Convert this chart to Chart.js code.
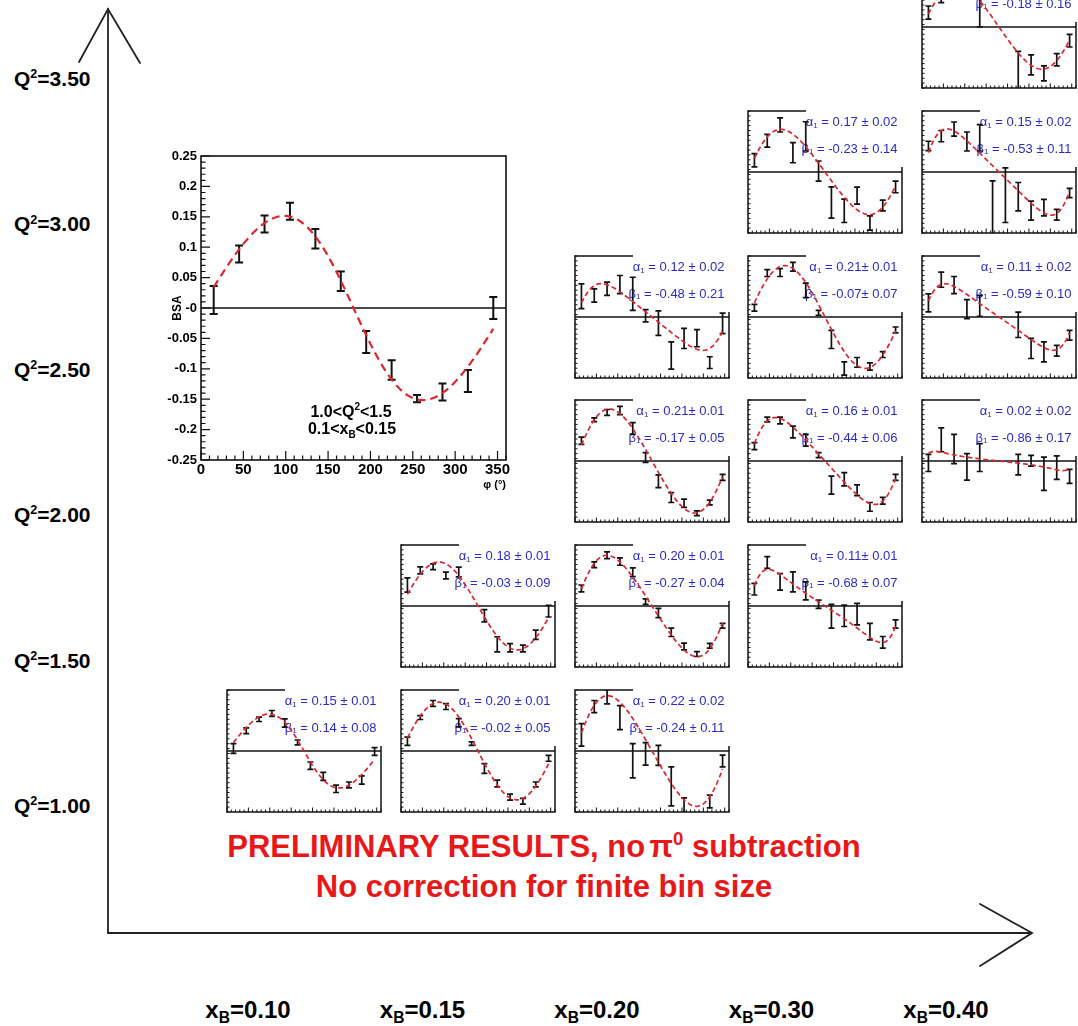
<!DOCTYPE html>
<html>
<head>
<meta charset="utf-8">
<title>Beam spin asymmetry vs phi</title>
<script src="https://cdn.jsdelivr.net/npm/chart.js@4.4.1/dist/chart.umd.min.js"></script>
<style>
  html,body{margin:0;padding:0;background:#fff;}
  #page{position:relative;width:1078px;height:1026px;overflow:hidden;font-family:"Liberation Sans",Arial,Helvetica,sans-serif;}
  #page canvas{position:absolute;}
  .lab{position:absolute;white-space:nowrap;line-height:1;font-weight:bold;color:#000;}
  .q2{font-size:21px;left:14px;transform:translate(0,-50%);}
  .xb{font-size:24px;transform:translate(-50%,-50%);}
  .sup{font-size:0.6em;position:relative;top:-0.62em;}
  .sub{font-size:0.65em;position:relative;top:0.35em;}
  .note{font-size:31px;color:#e81818;left:544px;transform:translate(-50%,-50%);}
  svg{position:absolute;left:0;top:0;}
</style>
</head>
<body>
<div id="page">
<svg width="1078" height="1026">
  <g stroke="#222" stroke-width="1.8" fill="none" stroke-linecap="round">
    <line x1="108" y1="9" x2="108" y2="933"/>
    <polyline points="79,62 108,9 140,63"/>
    <line x1="108" y1="933" x2="1031" y2="933"/>
    <polyline points="980,904 1032,933 980,966"/>
  </g>
</svg>
<div class="lab note" style="top:846px">PRELIMINARY RESULTS, no<span style="margin-left:4px">π</span><span class="sup">0</span> subtraction</div>
<div class="lab note" style="top:886px">No correction for finite bin size</div>
</div>
<script>
// phi bin centres (degrees)
const PHI = [15, 45, 75, 105, 135, 165, 195, 225, 255, 285, 315, 345];

// axis labels of the grid of bins
const xbLabels = ['0.10', '0.15', '0.20', '0.30', '0.40'];
const q2Labels = ['1.00', '1.50', '2.00', '2.50', '3.00', '3.50'];

// enlarged bin: 1.0<Q2<1.5, 0.1<xB<0.15
const bsaMain = [0.013, 0.089, 0.138, 0.159, 0.114, 0.044, -0.056, -0.102, -0.149, -0.138, -0.120, 0.000];
const errMain = [0.023, 0.014, 0.014, 0.014, 0.016, 0.016, 0.018, 0.016, 0.006, 0.014, 0.018, 0.018];
const yTickValues = [-0.25, -0.2, -0.15, -0.1, -0.05, 0, 0.05, 0.1, 0.15, 0.2, 0.25];
const yTickLabels = ['-0.25', '-0.2', '-0.15', '-0.1', '-0.05', '-0', '0.05', '0.1', '0.15', '0.2', '0.25'];
const xTickValues = [0, 50, 100, 150, 200, 250, 300, 350];
const xTickLabels = ['0', '50', '100', '150', '200', '250', '300', '350'];

// small panels, one pair of arrays per (xB, Q2) bin; null = no measurement
const bsa_x10_q10 = [0.010, 0.083, 0.130, 0.154, 0.115, 0.035, -0.060, -0.104, -0.155, -0.139, -0.119, -0.002];
const err_x10_q10 = [0.020, 0.012, 0.009, 0.012, 0.017, 0.010, 0.015, 0.016, 0.015, 0.012, 0.017, 0.016];
const bsa_x15_q10 = [0.040, 0.137, 0.195, 0.182, 0.116, 0.030, -0.072, -0.133, -0.189, -0.206, -0.137, -0.030];
const err_x15_q10 = [0.017, 0.008, 0.012, 0.012, 0.017, 0.007, 0.020, 0.014, 0.012, 0.012, 0.010, 0.012];
const bsa_x20_q10 = [0.066, 0.182, 0.222, 0.137, -0.040, -0.012, -0.018, -0.145, -0.226, null, -0.207, -0.041];
const err_x20_q10 = [0.046, 0.025, 0.029, 0.049, 0.070, 0.046, 0.041, 0.080, 0.034, null, 0.026, 0.024];
const bsa_x15_q15 = [0.086, 0.146, 0.161, 0.125, 0.139, null, -0.040, -0.157, -0.171, -0.174, -0.118, -0.021];
const err_x15_q15 = [0.029, 0.014, 0.012, 0.014, 0.020, null, 0.025, 0.031, 0.017, 0.014, 0.019, 0.024];
const bsa_x20_q15 = [0.072, 0.169, 0.208, 0.182, 0.138, 0.018, -0.029, -0.108, -0.166, -0.197, -0.163, -0.081];
const err_x20_q15 = [0.014, 0.012, 0.014, 0.015, 0.018, 0.011, 0.019, 0.017, 0.014, 0.010, 0.010, 0.010];
const bsa_x30_q15 = [0.069, 0.178, 0.099, 0.099, 0.062, 0.007, -0.042, -0.040, -0.033, -0.105, -0.149, -0.074];
const err_x30_q15 = [0.024, 0.024, 0.034, 0.041, 0.037, 0.017, 0.049, 0.044, 0.044, 0.034, 0.024, 0.017];
const bsa_x20_q20 = [0.083, 0.169, 0.199, 0.207, 0.133, 0.014, -0.083, -0.150, -0.173, -0.214, -0.170, -0.067];
const err_x20_q20 = [0.015, 0.008, 0.012, 0.017, 0.024, 0.020, 0.026, 0.020, 0.017, 0.010, 0.010, 0.012];
const bsa_x30_q20 = [0.061, 0.170, 0.166, 0.119, 0.085, 0.024, -0.099, -0.075, -0.120, -0.188, -0.163, -0.067];
const err_x30_q20 = [0.014, 0.010, 0.014, 0.024, 0.024, 0.010, 0.037, 0.027, 0.022, 0.018, 0.014, 0.012];
const bsa_x40_q20 = [-0.008, 0.087, 0.049, -0.024, 0.014, null, null, -0.015, 0.001, -0.052, -0.027, -0.063];
const err_x40_q20 = [0.035, 0.049, 0.060, 0.054, 0.057, null, null, 0.042, 0.022, 0.068, 0.048, 0.029];
const bsa_x20_q25 = [0.085, 0.088, 0.116, 0.133, 0.095, 0.005, -0.025, -0.158, -0.088, -0.087, -0.187, -0.026];
const err_x20_q25 = [0.051, 0.027, 0.027, 0.037, 0.068, 0.025, 0.050, 0.056, 0.041, 0.035, 0.024, 0.042];
const bsa_x30_q25 = [0.038, 0.180, 0.182, 0.206, 0.109, 0.017, -0.092, -0.211, -0.186, -0.203, -0.154, -0.053];
const err_x30_q25 = [0.014, 0.014, 0.016, 0.018, 0.030, 0.010, 0.037, 0.027, 0.020, 0.015, 0.012, 0.012];
const bsa_x40_q25 = [0.058, 0.153, 0.131, 0.032, 0.046, null, null, -0.032, -0.129, -0.143, -0.138, -0.075];
const err_x40_q25 = [0.037, 0.031, 0.035, 0.039, 0.043, null, null, 0.052, 0.041, 0.041, 0.022, 0.020];
const bsa_x30_q30 = [0.048, 0.128, 0.193, 0.079, 0.146, 0.004, -0.125, -0.159, -0.097, -0.209, -0.137, -0.061];
const err_x30_q30 = [0.027, 0.026, 0.029, 0.041, 0.060, 0.041, 0.064, 0.048, 0.035, 0.029, 0.022, 0.024];
const bsa_x40_q30 = [0.107, 0.147, 0.176, 0.125, 0.140, -0.145, -0.095, -0.101, -0.158, -0.146, -0.175, -0.086];
const err_x40_q30 = [0.019, 0.023, 0.029, 0.039, 0.054, 0.109, 0.112, 0.058, 0.039, 0.034, 0.022, 0.019];
const bsa_x40_q35 = [0.059, 0.130, 0.180, 0.190, 0.100, null, null, -0.190, -0.155, -0.190, -0.134, -0.056];
const err_x40_q35 = [0.027, 0.030, 0.030, 0.030, 0.100, null, null, 0.090, 0.041, 0.031, 0.025, 0.026];

// panel bookkeeping: column (xB index), row (Q2 index) and the arrays above
const panelCol = [0, 1, 2, 1, 2, 3, 2, 3, 4, 2, 3, 4, 3, 4, 4];
const panelRow = [0, 0, 0, 1, 1, 1, 2, 2, 2, 3, 3, 3, 4, 4, 5];
const panelBsa = [bsa_x10_q10, bsa_x15_q10, bsa_x20_q10, bsa_x15_q15, bsa_x20_q15, bsa_x30_q15, bsa_x20_q20, bsa_x30_q20, bsa_x40_q20, bsa_x20_q25, bsa_x30_q25, bsa_x40_q25, bsa_x30_q30, bsa_x40_q30, bsa_x40_q35];
const panelErr = [err_x10_q10, err_x15_q10, err_x20_q10, err_x15_q15, err_x20_q15, err_x30_q15, err_x20_q20, err_x30_q20, err_x40_q20, err_x20_q25, err_x30_q25, err_x40_q25, err_x30_q30, err_x40_q30, err_x40_q35];

// fit BSA = alpha1 sin(phi) / (1 + beta1 cos(phi))
const alpha1    = [0.15, 0.20, 0.22, 0.18, 0.20, 0.11, 0.21, 0.16, 0.02, 0.12, 0.21, 0.11, 0.17, 0.15, 0.17];
const alpha1Err = [0.01, 0.01, 0.02, 0.01, 0.01, 0.01, 0.01, 0.01, 0.02, 0.02, 0.01, 0.02, 0.02, 0.02, 0.03];
const beta1     = [0.14, -0.02, -0.24, -0.03, -0.27, -0.68, -0.17, -0.44, -0.86, -0.48, -0.07, -0.59, -0.23, -0.53, -0.18];
const beta1Err  = [0.08, 0.05, 0.11, 0.09, 0.04, 0.07, 0.05, 0.06, 0.17, 0.21, 0.07, 0.10, 0.14, 0.11, 0.16];
// panels whose printout has no space before the ± sign
const tightAlpha = [5, 6, 10];
const tightBeta = [10];

const FONT = '"Liberation Sans", Arial, Helvetica, sans-serif';
const RED = '#e0262d';
const BLUE = '#2b2bcc';

function fitCurve(a, b) {
  const pts = [];
  for (let p = 15; p <= 345.001; p += 2.5) {
    const r = p * Math.PI / 180;
    pts.push({x: p, y: a * Math.sin(r) / (1 + b * Math.cos(r))});
  }
  return pts;
}

function points(vals, errs) {
  const out = [];
  PHI.forEach((p, k) => { if (vals[k] !== null) out.push({x: p, y: vals[k], e: errs[k]}); });
  return out;
}

// draw a run of text pieces (with optional size / vertical shift)
function richText(ctx, parts, x, y, align) {
  let total = 0;
  parts.forEach(p => { ctx.font = p.font; p.w = ctx.measureText(p.t).width; total += p.w; });
  let cx = align === 'right' ? x - total : align === 'center' ? x - total / 2 : x;
  ctx.textAlign = 'left';
  ctx.textBaseline = 'middle';
  parts.forEach(p => { ctx.font = p.font; ctx.fillText(p.t, cx, y + (p.dy || 0)); cx += p.w; });
}

// frame, inward ticks, zero line, legend box and error bars in the ROOT style
const rootFrame = {
  id: 'rootFrame',
  beforeDatasetsDraw(chart, args, o) {
    const {ctx, chartArea: a, scales: {x, y}} = chart;
    ctx.save();
    ctx.strokeStyle = '#111';
    ctx.lineCap = 'butt';
    // ticks
    ctx.lineWidth = o.tickWidth;
    ctx.beginPath();
    for (let v = 0; v <= 360.001; v += o.xMinor) {
      const len = Math.abs(v / o.xMajor - Math.round(v / o.xMajor)) < 1e-6 ? o.tickMajor : o.tickMinor;
      const px = x.getPixelForValue(v);
      ctx.moveTo(px, a.bottom); ctx.lineTo(px, a.bottom - len);
    }
    for (let k = -25; k <= 25; k += o.yMinorK) {
      const v = k / 100;
      const len = (k % o.yMajorK === 0) ? o.tickMajor : o.tickMinor;
      const py = y.getPixelForValue(v);
      ctx.moveTo(a.left, py); ctx.lineTo(a.left + len, py);
    }
    ctx.stroke();
    // zero line
    ctx.lineWidth = o.zeroWidth;
    ctx.beginPath();
    const y0 = y.getPixelForValue(0);
    ctx.moveTo(a.left, y0); ctx.lineTo(a.right, y0);
    ctx.stroke();
    // frame
    ctx.lineWidth = o.frameWidth;
    ctx.strokeRect(a.left, a.top, a.right - a.left, a.bottom - a.top);
    // fit-parameter box
    if (o.box) {
      ctx.fillStyle = '#fff';
      ctx.fillRect(a.left + o.box.x0, a.top - 4, a.right - a.left - o.box.x0 + 5, o.box.h + 4);
      ctx.fillStyle = BLUE;
      const f = '13px ' + FONT, fs = '8px ' + FONT;
      const rx = a.left + o.box.right;
      richText(ctx, [{t: 'α', font: f}, {t: '1', font: fs, dy: 3}, {t: ' = ' + o.box.alpha, font: f}], rx, a.top + 11.5, 'right');
      richText(ctx, [{t: 'β', font: f}, {t: '1', font: fs, dy: 3}, {t: ' = ' + o.box.beta, font: f}], rx, a.top + 38, 'right');
    }
    // error bars
    ctx.beginPath();
    ctx.rect(a.left, a.top, a.right - a.left, a.bottom - a.top);
    ctx.clip();
    ctx.strokeStyle = '#111';
    ctx.lineWidth = o.barWidth;
    ctx.beginPath();
    chart.data.datasets[0].data.forEach(d => {
      const px = x.getPixelForValue(d.x);
      const yt = y.getPixelForValue(d.y + d.e);
      const yb = y.getPixelForValue(d.y - d.e);
      const h = o.cap / 2;
      ctx.moveTo(px, yt); ctx.lineTo(px, yb);
      ctx.moveTo(px - h, yt); ctx.lineTo(px + h, yt);
      ctx.moveTo(px - h, yb); ctx.lineTo(px + h, yb);
    });
    ctx.stroke();
    ctx.restore();
  },
  afterDraw(chart, args, o) {
    if (!o.binText) return;
    const {ctx, chartArea: a} = chart;
    ctx.save();
    ctx.fillStyle = '#000';
    const f = 'bold 16px ' + FONT, fs = 'bold 10px ' + FONT;
    richText(ctx, [{t: '1.0<Q', font: f}, {t: '2', font: fs, dy: -6}, {t: '<1.5', font: f}], a.left + 150, a.top + 257, 'center');
    richText(ctx, [{t: '0.1<x', font: f}, {t: 'B', font: fs, dy: 5}, {t: '<0.15', font: f}], a.left + 151, a.top + 274, 'center');
    ctx.restore();
  }
};

const page = document.getElementById('page');

function addCanvas(left, top, w, h) {
  const cv = document.createElement('canvas');
  cv.width = w; cv.height = h;
  cv.style.left = left + 'px';
  cv.style.top = top + 'px';
  cv.style.width = w + 'px';
  cv.style.height = h + 'px';
  page.appendChild(cv);
  return cv;
}

function fmt(v) { return v.toFixed(2); }

// small panels
const PW = 154, PH = 122, PAD = 7;
panelBsa.forEach((vals, i) => {
  const left = Math.round(227 + panelCol[i] * 173.8);
  const zero = Math.round(751 - panelRow[i] * 144.8);
  const top = zero - PH / 2;
  const cv = addCanvas(left - PAD, top - PAD, PW + 2 * PAD, PH + 2 * PAD);
  const aTxt = fmt(alpha1[i]) + (tightAlpha.includes(i) ? '± ' : ' ± ') + fmt(alpha1Err[i]);
  const bTxt = fmt(beta1[i]) + (tightBeta.includes(i) ? '± ' : ' ± ') + fmt(beta1Err[i]);
  new Chart(cv, {
    type: 'scatter',
    data: {datasets: [
      {data: points(vals, panelErr[i]), pointRadius: 0, pointHoverRadius: 0},
      {data: fitCurve(alpha1[i], beta1[i]), showLine: true, borderColor: RED, borderWidth: 1.7,
       borderDash: [5, 3], pointRadius: 0, pointHoverRadius: 0, tension: 0}
    ]},
    options: {
      responsive: false, animation: false, events: [],
      layout: {padding: PAD},
      scales: {
        x: {type: 'linear', min: 0, max: 360, display: false},
        y: {type: 'linear', min: -0.25, max: 0.25, display: false}
      },
      plugins: {
        legend: {display: false}, tooltip: {enabled: false},
        rootFrame: {tickWidth: 1, tickMajor: 4.5, tickMinor: 2.5, xMajor: 50, xMinor: 10, yMajorK: 10, yMinorK: 2,
                    zeroWidth: 1.4, frameWidth: 1.5, barWidth: 1.7, cap: 6,
                    box: {x0: 58, h: 56, right: 149.5, alpha: aTxt, beta: bTxt}}
      }
    },
    plugins: [rootFrame]
  });
});

// enlarged panel
(function () {
  const cv = addCanvas(131, 140, 389, 360);
  const tickFont = {family: FONT, weight: 'bold', size: 13};
  new Chart(cv, {
    type: 'scatter',
    data: {datasets: [
      {data: points(bsaMain, errMain), pointRadius: 0, pointHoverRadius: 0},
      {data: fitCurve(alpha1[0], beta1[0]), showLine: true, borderColor: RED, borderWidth: 2.2,
       borderDash: [8, 5], pointRadius: 0, pointHoverRadius: 0, tension: 0}
    ]},
    options: {
      responsive: false, animation: false, events: [],
      layout: {padding: {left: 35, top: 16, right: 14, bottom: 4}},
      scales: {
        x: {
          type: 'linear', min: 0, max: 360,
          afterBuildTicks: s => { s.ticks = xTickValues.map(v => ({value: v})); },
          afterFit: s => { s.height = 36; },
          ticks: {autoSkip: false, maxRotation: 0, padding: 1, color: '#000',
                  font: {family: FONT, weight: 'bold', size: 15},
                  callback: v => xTickLabels[xTickValues.indexOf(v)]},
          grid: {display: false, drawTicks: false}, border: {display: false},
          title: {display: true, text: 'φ (°)', align: 'end', color: '#000',
                  font: {family: FONT, weight: 'bold', size: 11}, padding: {top: 0, bottom: 4}}
        },
        y: {
          type: 'linear', min: -0.25, max: 0.25,
          afterBuildTicks: s => { s.ticks = yTickValues.map(v => ({value: v})); },
          afterFit: s => { s.width = 35; },
          ticks: {autoSkip: false, padding: 4, color: '#000', font: tickFont,
                  callback: v => yTickLabels[yTickValues.findIndex(t => Math.abs(t - v) < 1e-9)]},
          grid: {display: false, drawTicks: false}, border: {display: false},
          title: {display: true, text: 'BSA', color: '#000',
                  font: {family: FONT, weight: 'bold', size: 12}, padding: {top: 4, bottom: 0}}
        }
      },
      plugins: {
        legend: {display: false}, tooltip: {enabled: false},
        rootFrame: {tickWidth: 1.2, tickMajor: 9, tickMinor: 4.5, xMajor: 50, xMinor: 10, yMajorK: 5, yMinorK: 1,
                    zeroWidth: 1.5, frameWidth: 1.6, barWidth: 2, cap: 8, binText: true}
      }
    },
    plugins: [rootFrame]
  });
})();

// grid labels
q2Labels.forEach((q, r) => {
  const d = document.createElement('div');
  d.className = 'lab q2';
  d.style.top = (805 - r * 145.4) + 'px';
  d.innerHTML = 'Q<span class="sup">2</span>=' + q;
  page.appendChild(d);
});
xbLabels.forEach((x, c) => {
  const d = document.createElement('div');
  d.className = 'lab xb';
  d.style.left = (248 + c * 174.5) + 'px';
  d.style.top = '1010px';
  d.innerHTML = 'x<span class="sub">B</span>=' + x;
  page.appendChild(d);
});
</script>
</body>
</html>
